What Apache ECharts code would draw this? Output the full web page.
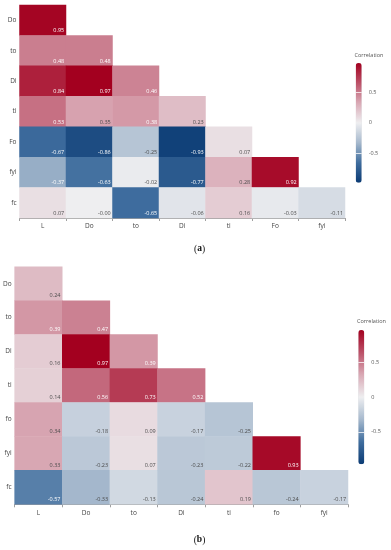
<!DOCTYPE html>
<html><head><meta charset="utf-8">
<script src="https://cdn.jsdelivr.net/npm/echarts@6/dist/echarts.min.js"></script>
<style>html,body{margin:0;padding:0;background:#fff}#c{width:391px;height:550px}</style>
</head><body><div id="c"></div><script>
const colsA = ['L','Do','to','Di','ti','Fo','fyi'];
const rowsA = ['Do','to','Di','ti','Fo','fyi','fc'];
const valsA = [
  [0.95],
  [0.48, 0.48],
  [0.84, 0.97, 0.46],
  [0.53, 0.35, 0.38, 0.23],
  [-0.67, -0.86, -0.25, -0.93, 0.07],
  [-0.37, -0.63, -0.02, -0.77, 0.28, 0.92],
  [0.07, -0.00, -0.65, -0.06, 0.16, -0.03, -0.11]
];
const colsB = ['L','Do','to','Di','ti','fo','fyi'];
const rowsB = ['Do','to','Di','ti','fo','fyi','fc'];
const valsB = [
  [0.24],
  [0.39, 0.47],
  [0.16, 0.97, 0.39],
  [0.14, 0.56, 0.73, 0.52],
  [0.34, -0.18, 0.09, -0.17, -0.25],
  [0.33, -0.23, 0.07, -0.23, -0.22, 0.93],
  [-0.57, -0.33, -0.13, -0.24, 0.19, -0.24, -0.17]
];
const colorTicks = [-0.5, 0, 0.5];
const lineTicks = [-0.5, 0.5];
const scaleMin = -0.97, scaleMax = 0.97;
const ramp = ['#0b3b74', '#3f6d9e', '#a6b9cd', '#eeeef0', '#d9a9b5', '#bb5067', '#a3001f'];
const FONT = 'Open Sans';

function fmt(v) { return (Object.is(v, -0) ? '-0.00' : v.toFixed(2)); }
function buildData(vals) {
  const out = [];
  vals.forEach((row, r) => row.forEach((v, c) => {
    out.push({ value: [c, r, v], label: { color: Math.abs(v) >= 0.36 ? '#ffffff' : '#4a4a4a' }, raw: v });
  }));
  return out;
}

const grids = [
  { left: 19.5, top: 5, width: 325.5, height: 213 },
  { left: 14.3, top: 266.7, width: 333.7, height: 237.6 },
  { left: 355.7, top: 63, width: 6, height: 119.7 },
  { left: 358.3, top: 330, width: 6, height: 134.3 }
];

function catX(i, data) {
  return { type: 'category', gridIndex: i, data: data,
    axisLine: { lineStyle: { color: '#a0a0a0', width: 1 } },
    axisTick: { show: true, length: 3, alignWithLabel: false, lineStyle: { color: '#a0a0a0' } },
    axisLabel: { fontFamily: FONT, fontSize: 6.5, color: '#444', margin: 5 },
    splitLine: { show: false } };
}
function catY(i, data) {
  return { type: 'category', gridIndex: i, data: data, inverse: true,
    axisLine: { show: false }, axisTick: { show: false },
    axisLabel: { fontFamily: FONT, fontSize: 6.5, color: '#444', margin: 3 },
    splitLine: { show: false } };
}
function barX(i) { return { type: 'category', gridIndex: i, data: ['c'], show: false }; }
function barY(i) {
  return { type: 'value', gridIndex: i, min: scaleMin, max: scaleMax, position: 'right', z: 10,
    axisLine: { show: false },
    axisTick: { show: true, inside: true, length: 6, customValues: lineTicks, lineStyle: { color: 'rgba(255,255,255,0.75)', width: 1 } },
    axisLabel: { customValues: colorTicks, margin: 7, fontFamily: FONT, fontSize: 5.5, color: '#555',
      formatter: v => (v === 0 ? '0' : String(v)) },
    splitLine: { show: false } };
}
function heat(i, vals) {
  return { type: 'heatmap', xAxisIndex: i, yAxisIndex: i, data: buildData(vals),
    label: { show: true, position: 'insideBottomRight', distance: 2, fontFamily: FONT, fontSize: 5.5,
      formatter: p => fmt(vals[p.value[1]][p.value[0]]) },
    itemStyle: { borderWidth: 0 },
    emphasis: { disabled: true } };
}
function vmap(si, g) {
  return { type: 'continuous', seriesIndex: si, min: scaleMin, max: scaleMax, show: true,
    calculable: false, hoverLink: false, orient: 'vertical', left: g.left, top: g.top,
    itemWidth: g.width, itemHeight: g.height, padding: 0, text: null, showLabel: false,
    inRange: { color: ramp } };
}

const chart = echarts.init(document.getElementById('c'), null, { renderer: 'canvas' });
chart.setOption({
  animation: false,
  backgroundColor: '#ffffff',
  grid: grids,
  xAxis: [catX(0, colsA), catX(1, colsB), barX(2), barX(3)],
  yAxis: [catY(0, rowsA), catY(1, rowsB), barY(2), barY(3)],
  visualMap: [vmap(0, grids[2]), vmap(1, grids[3])],
  series: [heat(0, valsA), heat(1, valsB)],
  graphic: [
    { type: 'text', x: 369, y: 55, style: { text: 'Correlation', align: 'center', verticalAlign: 'middle', fontFamily: FONT, fontSize: 5.5, fill: '#555' } },
    { type: 'text', x: 371.5, y: 321.7, style: { text: 'Correlation', align: 'center', verticalAlign: 'middle', fontFamily: FONT, fontSize: 5.5, fill: '#555' } },
    { type: 'text', x: 199.5, y: 249, style: { text: '({b|a})', align: 'center', verticalAlign: 'middle', fontFamily: 'Liberation Serif', fontSize: 9.5, fill: '#111', rich: { b: { fontWeight: 'bold', fontFamily: 'Liberation Serif', fontSize: 9.5 } } } },
    { type: 'text', x: 199.5, y: 540, style: { text: '({b|b})', align: 'center', verticalAlign: 'middle', fontFamily: 'Liberation Serif', fontSize: 9.5, fill: '#111', rich: { b: { fontWeight: 'bold', fontFamily: 'Liberation Serif', fontSize: 9.5 } } } }
  ]
});
</script></body></html>
